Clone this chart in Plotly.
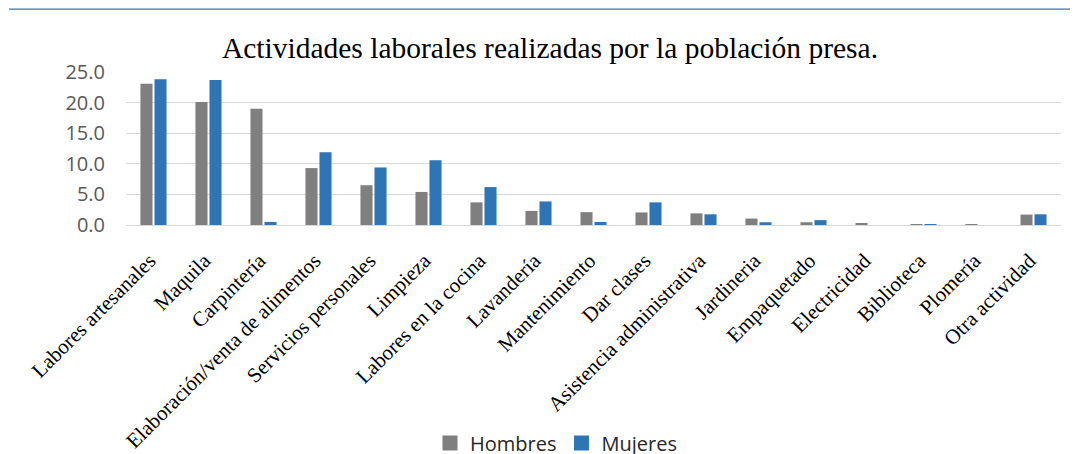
import plotly.graph_objects as go

categories = [
    "Labores artesanales", "Maquila", "Carpintería", "Elaboración/venta de alimentos",
    "Servicios personales", "Limpieza", "Labores en la cocina", "Lavandería",
    "Mantenimiento", "Dar clases", "Asistencia administrativa", "Jardineria",
    "Empaquetado", "Electricidad", "Biblioteca", "Plomería", "Otra actividad",
]
hombres = [23.1, 20.1, 19.0, 9.3, 6.5, 5.4, 3.7, 2.3, 2.1, 2.05, 1.9, 1.05, 0.45, 0.3, 0.1, 0.1, 1.7]
mujeres = [23.8, 23.7, 0.5, 11.9, 9.4, 10.6, 6.2, 3.85, 0.5, 3.7, 1.75, 0.45, 0.8, 0.0, 0.1, 0.0, 1.75]
y_ticks = [0, 5, 10, 15, 20, 25]
series_names = ["Hombres", "Mujeres"]
series_colors = ["#7F7F7F", "#2E75B6"]

# The page body has an 8px default margin; the figure is placed at (8, 8).
OFF = 8
W, H = 1078 - OFF, 454 - OFF
L, R, T, B = 126 - OFF, 1061 - OFF, 71.7 - OFF, 225 - OFF

fig = go.Figure()
for name, vals, col in zip(series_names, [hombres, mujeres], series_colors):
    fig.add_trace(go.Bar(name=name, x=categories, y=vals, marker_color=col,
                         marker_line_width=0, showlegend=False, legendgroup=name))
# legend proxies with larger square swatches
for name, col in zip(series_names, series_colors):
    fig.add_trace(go.Scatter(name=name, x=[None], y=[None], mode="markers",
                             marker=dict(symbol="square", size=15, color=col),
                             showlegend=True, legendgroup=name))

pw, ph = R - L, B - T
line_y = 8 - OFF + 0.7
fig.add_shape(type="line", xref="paper", yref="paper",
              x0=(9 - OFF - L) / pw, x1=(W - L) / pw, y0=(B - line_y) / ph, y1=(B - line_y) / ph,
              line=dict(color="#2E75B6", width=1.3))

fig.update_layout(
    width=W, height=H,
    margin=dict(l=L, r=W - R, t=T, b=H - B, pad=0),
    paper_bgcolor="white", plot_bgcolor="white",
    barmode="group", bargap=0.49, bargroupgap=0.14,
    title=dict(text="Actividades laborales realizadas por la población presa.",
               font=dict(family="Liberation Serif", size=29.5, color="#000000"),
               x=(550 - OFF) / W, xanchor="center", y=1 - (48 - OFF) / H, yanchor="middle",
               xref="container", yref="container"),
    showlegend=True,
    legend=dict(orientation="h", xref="container", yref="container",
                x=(556 - OFF) / W, xanchor="center", y=1 - (443 - OFF) / H, yanchor="middle",
                font=dict(family="Open Sans", size=20, color="#262626"),
                itemwidth=30, traceorder="normal"),
    xaxis=dict(tickangle=-45, tickfont=dict(family="Liberation Serif", size=21, color="#000000"),
               showgrid=False, showline=True, linecolor="#D9D9D9", linewidth=1.3,
               ticks="", automargin=False, ticklabelstandoff=14, ticklabelshift=-4),
    yaxis=dict(range=[0, 25], tickvals=y_ticks, tickformat=".1f",
               tickfont=dict(family="Open Sans", size=20, color="#595959"),
               showgrid=True, gridcolor="#D9D9D9", gridwidth=1.3,
               zeroline=False, showline=False, ticks="", automargin=False,
               ticklabelstandoff=20),
)

fig.write_html("out.html")
